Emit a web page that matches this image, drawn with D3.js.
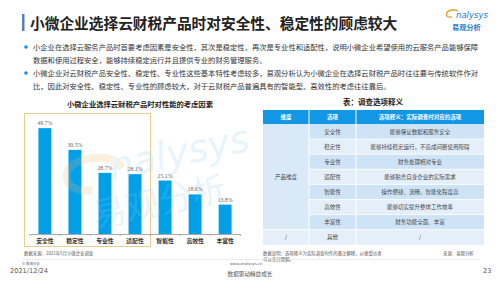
<!DOCTYPE html>
<html>
<head>
<meta charset="utf-8">
<script src="https://cdn.jsdelivr.net/npm/d3@7"></script>
<style>
  body { margin: 0; background: #fff; }
  svg { display: block; font-family: "Noto Sans CJK SC", "Noto Sans", sans-serif; }
</style>
</head>
<body>
<svg width="499" height="281"></svg>
<script>
// chart data
const categories = ['安全性', '稳定性', '专业性', '适配性', '智能性', '高效性', '丰富性'];
const shares = [49.7, 39.5, 28.7, 28.1, 25.1, 18.6, 13.8];

// table data
const tableHeader = ['维度', '选项', '选项释义：实际调查时对应的选项'];
const options = ['安全性', '稳定性', '专业性', '适配性', '智能性', '高效性', '丰富性', '其他'];
const meanings = ['能够保证数据和服务安全', '能够持续稳定运行，不造成间断使用障碍', '财务处理相对专业',
  '能够贴合自身企业的实际需求', '操作便捷、流畅，智能化程度高', '能够切实提升整体工作效率', '财务功能全面、丰富', '/'];

const bullets = [
  ['小企业在选择云服务产品时首要考虑因素是安全性，其次是稳定性，再次是专业性和适配性，说明小微企业希望使用的云服务产品能够保障',
   '数据和使用过程安全，能够持续稳定运行并且提供专业的财务管理服务。'],
  ['小微企业对云财税产品安全性、稳定性、专业性这些基本特性考虑较多，易观分析认为小微企业在选择云财税产品时往往要与传统软件作对',
   '比，因此对安全性、稳定性、专业性的顾虑较大，对于云财税产品普遍具有的智能型、高效性的考虑往往靠后。']
];

const svg = d3.select('svg');

// header
svg.append('rect').attr('x', 22).attr('y', 14).attr('width', 2.5).attr('height', 17).attr('fill', '#5b7fb5');
svg.append('text').attr('x', 30).attr('y', 29)
  .attr('font-size', 14.7).attr('font-weight', 'bold').attr('fill', '#222')
  .text('小微企业选择云财税产品时对安全性、稳定性的顾虑较大');

// logo
const logo = svg.append('g');
logo.append('path').attr('d', 'M452,17 C444,18 445,11 452,10 C455,9.5 457,10.5 458,11')
  .attr('fill', 'none').attr('stroke', '#f39a1e').attr('stroke-width', 1.3);
logo.append('text').attr('x', 456).attr('y', 18).attr('font-size', 8.5).attr('font-style', 'italic')
  .attr('fill', '#1f7bc8').attr('font-family', 'DejaVu Sans').text('nalysys');
logo.append('text').attr('x', 452).attr('y', 30).attr('font-size', 7.2).attr('font-weight', 'bold')
  .attr('fill', '#1f7bc8').text('易观分析');

// bullets
bullets.forEach((b, i) => {
  const y0 = 47 + i * 26;
  svg.append('circle').attr('cx', 26).attr('cy', y0).attr('r', 1.8).attr('fill', '#1a8fe3');
  b.forEach((line, j) => {
    svg.append('text').attr('x', 33).attr('y', y0 + j * 13.5 + 2.6)
      .attr('font-size', 7.3).attr('fill', '#333').text(line);
  });
});

// bar chart
svg.append('text').attr('x', 140).attr('y', 107).attr('text-anchor', 'middle')
  .attr('font-size', 7.3).attr('font-weight', 'bold').attr('fill', '#222')
  .text('小微企业选择云财税产品时对性能的考虑因素');

svg.append('rect').attr('x', 24.5).attr('y', 113.5).attr('width', 126).attr('height', 133)
  .attr('fill', 'none').attr('stroke', '#e6cf93').attr('stroke-width', 1);

const x = d3.scaleBand().domain(categories).range([30, 240]).paddingInner(0.57).paddingOuter(0.28);
const y = d3.scaleLinear().domain([0, 50]).range([234, 127.5]);

const chart = svg.append('g');
chart.selectAll('rect.bar').data(shares).enter().append('rect')
  .attr('class', 'bar')
  .attr('x', (d, i) => x(categories[i]))
  .attr('y', d => y(d))
  .attr('width', x.bandwidth())
  .attr('height', d => y(0) - y(d))
  .attr('fill', '#00a0e9');

chart.selectAll('text.val').data(shares).enter().append('text')
  .attr('class', 'val')
  .attr('x', (d, i) => x(categories[i]) + x.bandwidth() / 2)
  .attr('y', d => y(d) - 3)
  .attr('text-anchor', 'middle').attr('font-size', 5.8).attr('fill', '#666')
  .attr('font-family', 'Liberation Serif')
  .text(d => d.toFixed(1) + '%');

// watermark
const wm = svg.append('g').attr('opacity', 0.2).attr('pointer-events', 'none');
wm.append('path').attr('d', 'M92,190 C60,195 55,160 95,158 C110,157 118,162 122,168')
  .attr('fill', 'none').attr('stroke', '#f7b56a').attr('stroke-width', 8);
wm.append('text').attr('x', 112).attr('y', 180).attr('font-size', 38).attr('font-style', 'italic')
  .attr('font-family', 'DejaVu Sans').attr('fill', '#8fcbef').attr('transform', 'rotate(-12 112 180)')
  .text('nalysys');
wm.append('text').attr('x', 95).attr('y', 228).attr('font-size', 34)
  .attr('fill', '#8fcbef').attr('transform', 'rotate(-12 95 228)')
  .text('易观分析');

// axis
const axis = svg.append('g').attr('transform', 'translate(0,234)')
  .call(d3.axisBottom(x).tickSize(0).tickPadding(5));
axis.select('.domain').attr('stroke', '#aaa');
axis.selectAll('text').attr('font-size', 5.8).attr('fill', '#333')
  .attr('font-family', '"Noto Sans CJK SC"').attr('font-weight', 'bold');
axis.selectAll('.edge').data(d3.range(categories.length + 1)).enter().append('line')
  .attr('class', 'edge')
  .attr('x1', i => 30 + i * x.step()).attr('x2', i => 30 + i * x.step())
  .attr('y1', 0).attr('y2', 2).attr('stroke', '#aaa');

svg.append('text').attr('x', 24).attr('y', 255).attr('font-size', 4.4).attr('fill', '#555')
  .text('数据来源：2021年5月小微企业调查');

// table
svg.append('text').attr('x', 373).attr('y', 105).attr('text-anchor', 'middle')
  .attr('font-size', 7.5).attr('font-weight', 'bold').attr('fill', '#222')
  .text('表：调查选项释义');

const colX = [263, 309, 356, 484];
const headTop = 110, headH = 14, rowH = 15.1;
const rowTop = headTop + headH;
const table = svg.append('g');

tableHeader.forEach((h, i) => {
  table.append('rect').attr('x', colX[i]).attr('y', headTop)
    .attr('width', colX[i + 1] - colX[i]).attr('height', headH).attr('fill', '#1296e6');
  table.append('text').attr('x', (colX[i] + colX[i + 1]) / 2).attr('y', headTop + 9.3)
    .attr('text-anchor', 'middle').attr('font-size', 5.5).attr('font-weight', 'bold')
    .attr('fill', '#fff').text(h);
});

options.forEach((opt, i) => {
  const fill = i % 2 === 0 ? '#cfe3f6' : '#e4eff9';
  const ry = rowTop + i * rowH;
  [1, 2].forEach(c => {
    table.append('rect').attr('x', colX[c]).attr('y', ry)
      .attr('width', colX[c + 1] - colX[c]).attr('height', rowH).attr('fill', fill);
  });
  table.append('text').attr('x', (colX[1] + colX[2]) / 2).attr('y', ry + rowH / 2 + 2)
    .attr('text-anchor', 'middle').attr('font-size', 5.5).attr('fill', '#444').text(opt);
  table.append('text').attr('x', (colX[2] + colX[3]) / 2).attr('y', ry + rowH / 2 + 2)
    .attr('text-anchor', 'middle').attr('font-size', 5.5).attr('fill', '#444').text(meanings[i]);
});

// first column: merged cell and last row
table.append('rect').attr('x', colX[0]).attr('y', rowTop)
  .attr('width', colX[1] - colX[0]).attr('height', rowH * 7).attr('fill', '#dae9f8');
table.append('rect').attr('x', colX[0]).attr('y', rowTop + rowH * 7)
  .attr('width', colX[1] - colX[0]).attr('height', rowH).attr('fill', '#e4eff9');
table.append('text').attr('x', (colX[0] + colX[1]) / 2).attr('y', rowTop + rowH * 3.5 + 2)
  .attr('text-anchor', 'middle').attr('font-size', 5.5).attr('fill', '#444').text('产品维度');
table.append('text').attr('x', (colX[0] + colX[1]) / 2).attr('y', rowTop + rowH * 7.5 + 2)
  .attr('text-anchor', 'middle').attr('font-size', 5.5).attr('fill', '#444').text('/');

// white grid lines
colX.slice(1, 3).forEach(cx => {
  table.append('line').attr('x1', cx).attr('x2', cx).attr('y1', headTop).attr('y2', rowTop + rowH * 8)
    .attr('stroke', '#fff').attr('stroke-width', 1);
});
d3.range(1, 8).forEach(i => {
  table.append('line').attr('x1', colX[1]).attr('x2', colX[3])
    .attr('y1', rowTop + i * rowH).attr('y2', rowTop + i * rowH)
    .attr('stroke', '#fff').attr('stroke-width', 0.8);
});
table.append('line').attr('x1', colX[0]).attr('x2', colX[1])
  .attr('y1', rowTop + 7 * rowH).attr('y2', rowTop + 7 * rowH)
  .attr('stroke', '#fff').attr('stroke-width', 0.8);

svg.append('text').attr('x', 263).attr('y', 255).attr('font-size', 4.4).attr('fill', '#555')
  .text('数据说明：选项释义为实际调查时作的备注解释，以便受访者');
svg.append('text').attr('x', 263).attr('y', 261).attr('font-size', 4.4).attr('fill', '#555')
  .text('可以充分理解。');
svg.append('text').attr('x', 443).attr('y', 255).attr('font-size', 4.4).attr('fill', '#555')
  .text('来源：易观分析');

// footer
svg.append('line').attr('x1', 22).attr('x2', 480).attr('y1', 259.5).attr('y2', 259.5)
  .attr('stroke', '#ddd').attr('stroke-width', 0.6);
svg.append('text').attr('x', 22).attr('y', 264.5).attr('font-size', 3.6).attr('fill', '#666').text('© 易观分析');
svg.append('text').attr('x', 230).attr('y', 264.5).attr('font-size', 3.8).attr('fill', '#666')
  .attr('font-family', 'DejaVu Sans').text('www.analysys.cn');
svg.append('text').attr('x', 10).attr('y', 273).attr('font-size', 6.6).attr('fill', '#555')
  .attr('font-family', 'DejaVu Sans').text('2021/12/24');
svg.append('text').attr('x', 250).attr('y', 276).attr('text-anchor', 'middle').attr('font-size', 5.6)
  .attr('fill', '#555').text('数据驱动精益成长');
svg.append('text').attr('x', 483).attr('y', 273).attr('font-size', 6.6).attr('fill', '#555')
  .attr('font-family', 'DejaVu Sans').text('23');
</script>
</body>
</html>
